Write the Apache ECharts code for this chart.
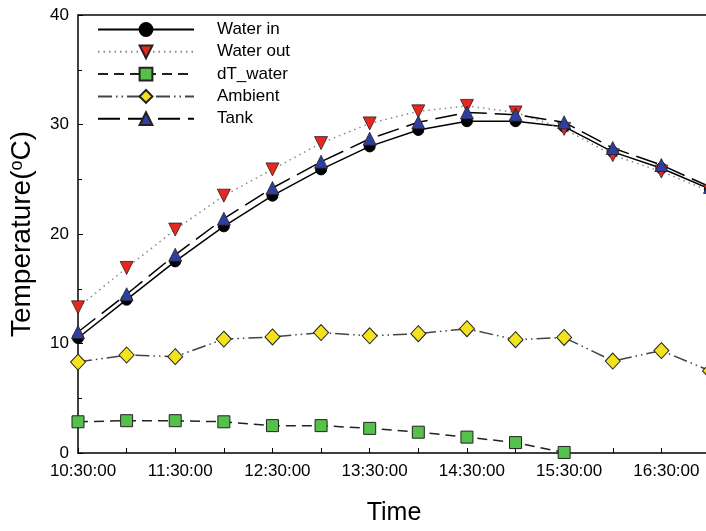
<!DOCTYPE html>
<html>
<head>
<meta charset="utf-8">
<script src="https://cdn.jsdelivr.net/npm/echarts@6/dist/echarts.min.js"></script>
<style>html,body{margin:0;padding:0;background:#fff;overflow:hidden}#c{width:710px;height:531px}</style>
</head>
<body>
<div id="c"></div>
<script>
var times = ['10:30:00','11:00:00','11:30:00','12:00:00','12:30:00','13:00:00','13:30:00','14:00:00','14:30:00','15:00:00','15:30:00','16:00:00','16:30:00','17:00:00'];
var waterIn  = [10.5, 14.0, 17.5, 20.7, 23.5, 25.9, 28.0, 29.5, 30.3, 30.3, 29.8, 27.5, 26.0, 24.1];
var waterOut = [13.3, 16.9, 20.4, 23.5, 25.9, 28.3, 30.1, 31.2, 31.7, 31.1, 29.6, 27.2, 25.7, 23.9];
var dTWater  = [2.85, 2.95, 2.95, 2.85, 2.5, 2.5, 2.25, 1.9, 1.45, 0.95, 0.05, null, null, null];
var ambient  = [8.3, 8.95, 8.8, 10.4, 10.6, 11.0, 10.7, 10.9, 11.35, 10.35, 10.55, 8.4, 9.35, 7.5];
var tank     = [11.05, 14.5, 18.1, 21.4, 24.2, 26.6, 28.7, 30.2, 31.1, 30.9, 30.2, 27.85, 26.3, 24.3];
var yTicks = [0, 10, 20, 30, 40];

var font = 'Liberation Sans, Arial, sans-serif';
var chart = echarts.init(document.getElementById('c'));
chart.setOption({
  animation: false,
  backgroundColor: '#fff',
  grid: { left: 77, top: 15, right: 0, bottom: 74, show: false },
  legend: {
    orient: 'vertical', left: 97, top: 21, padding: 0,
    itemWidth: 96, itemHeight: 16, itemGap: 5.3,
    textStyle: { fontFamily: font, fontSize: 17, color: '#000', lineHeight: 16, padding: [0, 0, 0, 18] },
    data: ['Water in', 'Water out', 'dT_water', 'Ambient', 'Tank']
  },
  xAxis: [{
    type: 'category', data: times, boundaryGap: false,
    name: 'Time', nameLocation: 'middle', nameGap: 48,
    nameTextStyle: { fontFamily: font, fontSize: 25, color: '#000' },
    axisLine: { lineStyle: { color: '#000', width: 1.5 } },
    axisTick: { inside: true, length: 5, interval: 0, lineStyle: { color: '#000', width: 1 } },
    axisLabel: { interval: 1, margin: 10, fontFamily: font, fontSize: 17, color: '#000', padding: [0, 0, 0, 10] },
    splitLine: { show: false }
  }, {
    type: 'category', data: times, boundaryGap: false, position: 'top',
    axisLine: { show: true, lineStyle: { color: '#444', width: 2 } },
    axisTick: { show: false }, axisLabel: { show: false }, splitLine: { show: false }
  }],
  yAxis: {
    type: 'value', min: yTicks[0], max: yTicks[yTicks.length - 1], interval: 10,
    name: 'Temperature({s|o}C)', nameLocation: 'middle', nameGap: 42,
    nameTextStyle: { fontFamily: font, fontSize: 28, color: '#000',
      rich: { s: { fontFamily: font, fontSize: 18, color: '#000', verticalAlign: 'top', padding: [0, 0, 10, 0] } } },
    axisLine: { show: true, lineStyle: { color: '#000', width: 1.5 } },
    axisTick: { show: true, inside: true, length: 5, lineStyle: { color: '#000', width: 1 } },
    minorTick: { show: true, splitNumber: 2, length: 4, lineStyle: { color: '#000', width: 1 } },
    axisLabel: { margin: 9, fontFamily: font, fontSize: 17, color: '#000' },
    splitLine: { show: false }
  },
  series: [
    { name: 'Water in', type: 'line', data: waterIn, symbol: 'circle', symbolSize: 11,
      itemStyle: { color: '#000', borderColor: '#000', borderWidth: 1 },
      lineStyle: { color: '#000', width: 1.5, type: 'solid' } },
    { name: 'Water out', type: 'line', data: waterOut, symbol: 'triangle', symbolRotate: 180, symbolSize: 13,
      itemStyle: { color: '#e8281e', borderColor: '#222', borderWidth: 0.8 },
      lineStyle: { color: '#888', width: 1.5, type: [1.5, 4] } },
    { name: 'dT_water', type: 'line', data: dTWater, symbol: 'rect', symbolSize: 12,
      itemStyle: { color: '#55c04a', borderColor: '#222', borderWidth: 1 },
      lineStyle: { color: '#222', width: 1.5, type: [10, 6] } },
    { name: 'Ambient', type: 'line', data: ambient, symbol: 'diamond', symbolSize: [15, 16],
      itemStyle: { color: '#f2e31e', borderColor: '#222', borderWidth: 1 },
      lineStyle: { color: '#444', width: 1.5, type: [14, 4, 1.5, 4, 1.5, 4] } },
    { name: 'Tank', type: 'line', data: tank, symbol: 'triangle', symbolSize: 13,
      itemStyle: { color: '#2e3fa0', borderColor: '#222', borderWidth: 0.8 },
      lineStyle: { color: '#000', width: 1.5, type: [22, 8] } }
  ]
});
</script>
</body>
</html>
